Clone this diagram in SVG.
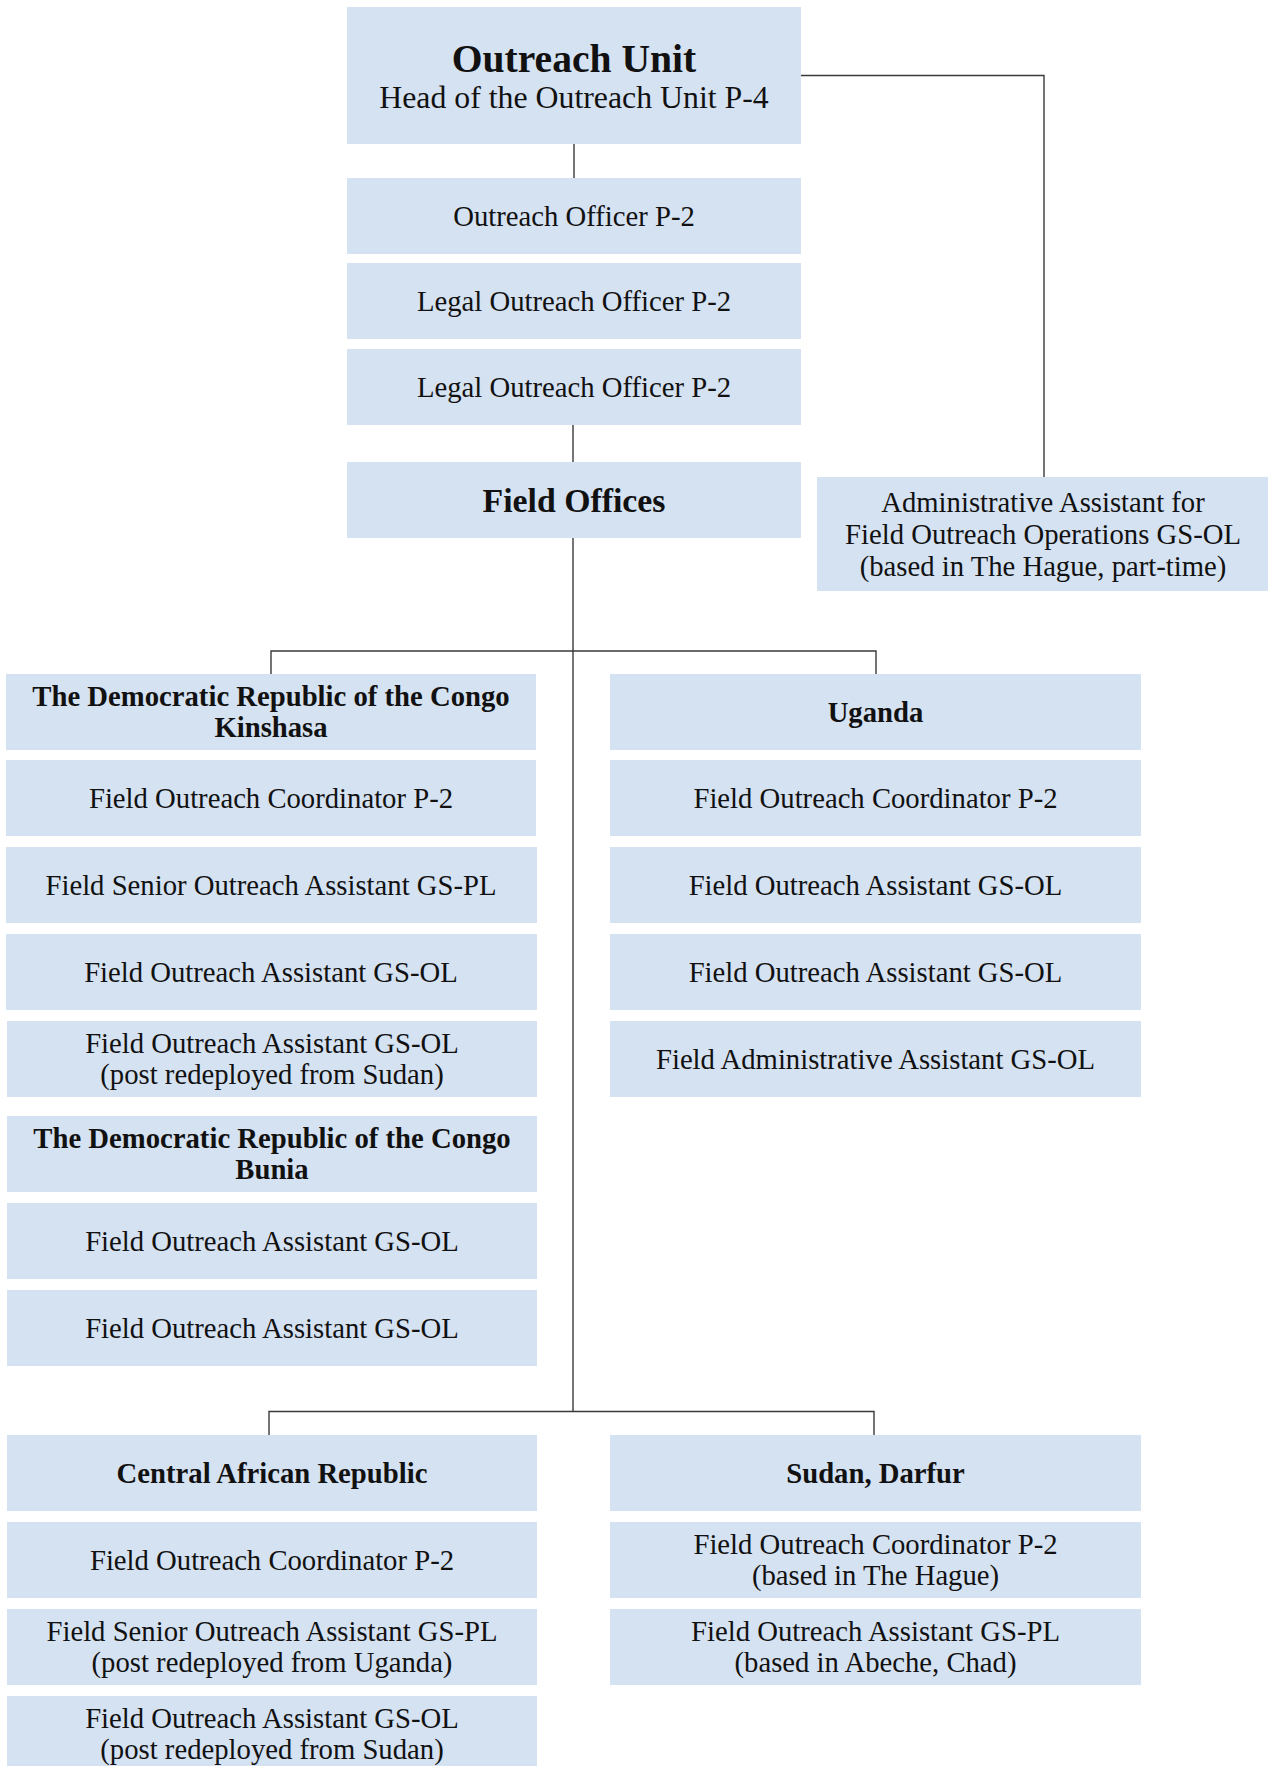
<svg xmlns="http://www.w3.org/2000/svg" width="1268" height="1766" viewBox="0 0 1268 1766">
<style>
.box{fill:#d5e2f1}
.t{font-family:"Liberation Serif",serif;font-size:28.7px;fill:#111;text-anchor:middle}
.b{font-weight:bold}
.ln{fill:none;stroke:#3a3a3a;stroke-width:1.4}
</style>
<rect width="1268" height="1766" fill="#fff"/>
<g id="connectors">
<path class="ln" d="M574 144V178"/>
<path class="ln" d="M573 425V462"/>
<path class="ln" d="M801 75.5H1044V477"/>
<path class="ln" d="M573 538V1411.5"/>
<path class="ln" d="M271 674V651H876V674"/>
<path class="ln" d="M269 1435V1411.5H874V1435"/>
</g>
<g id="n-unit"><rect class="box" x="347" y="7" width="454" height="137"/>
<text class="t b" x="574" y="72" style="font-size:39.6px">Outreach Unit</text>
<text class="t" x="574" y="107.5" style="font-size:31.8px">Head of the Outreach Unit P-4</text></g>
<g id="n-oo"><rect class="box" x="347" y="178" width="454" height="76"/><text class="t" x="574" y="226">Outreach Officer P-2</text></g>
<g id="n-lo1"><rect class="box" x="347" y="263" width="454" height="76"/><text class="t" x="574" y="311">Legal Outreach Officer P-2</text></g>
<g id="n-lo2"><rect class="box" x="347" y="349" width="454" height="76"/><text class="t" x="574" y="397">Legal Outreach Officer P-2</text></g>
<g id="n-fo"><rect class="box" x="347" y="462" width="454" height="76"/><text class="t b" x="574" y="512" style="font-size:33.8px">Field Offices</text></g>
<g id="n-admin"><rect class="box" x="817" y="477" width="451" height="114"/>
<text class="t" x="1043" y="512">Administrative Assistant for</text>
<text class="t" x="1043" y="544">Field Outreach Operations GS-OL</text>
<text class="t" x="1043" y="576">(based in The Hague, part-time)</text></g>

<g id="n-kin"><rect class="box" x="6" y="674" width="530" height="76"/>
<text class="t b" x="271" y="706">The Democratic Republic of the Congo</text>
<text class="t b" x="271" y="737">Kinshasa</text></g>
<g id="n-kin1"><rect class="box" x="6" y="760" width="530" height="76"/><text class="t" x="271" y="808">Field Outreach Coordinator P-2</text></g>
<g id="n-kin2"><rect class="box" x="6" y="847" width="531" height="76"/><text class="t" x="271" y="895">Field Senior Outreach Assistant GS-PL</text></g>
<g id="n-kin3"><rect class="box" x="6" y="934" width="531" height="76"/><text class="t" x="271" y="982">Field Outreach Assistant GS-OL</text></g>
<g id="n-kin4"><rect class="box" x="7" y="1021" width="530" height="76"/>
<text class="t" x="272" y="1053">Field Outreach Assistant GS-OL</text>
<text class="t" x="272" y="1084">(post redeployed from Sudan)</text></g>
<g id="n-bun"><rect class="box" x="7" y="1116" width="530" height="76"/>
<text class="t b" x="272" y="1148">The Democratic Republic of the Congo</text>
<text class="t b" x="272" y="1179">Bunia</text></g>
<g id="n-bun1"><rect class="box" x="7" y="1203" width="530" height="76"/><text class="t" x="272" y="1251">Field Outreach Assistant GS-OL</text></g>
<g id="n-bun2"><rect class="box" x="7" y="1290" width="530" height="76"/><text class="t" x="272" y="1338">Field Outreach Assistant GS-OL</text></g>

<g id="n-uga"><rect class="box" x="610" y="674" width="531" height="76"/><text class="t b" x="875.5" y="722">Uganda</text></g>
<g id="n-uga1"><rect class="box" x="610" y="760" width="531" height="76"/><text class="t" x="875.5" y="808">Field Outreach Coordinator P-2</text></g>
<g id="n-uga2"><rect class="box" x="610" y="847" width="531" height="76"/><text class="t" x="875.5" y="895">Field Outreach Assistant GS-OL</text></g>
<g id="n-uga3"><rect class="box" x="610" y="934" width="531" height="76"/><text class="t" x="875.5" y="982">Field Outreach Assistant GS-OL</text></g>
<g id="n-uga4"><rect class="box" x="610" y="1021" width="531" height="76"/><text class="t" x="875.5" y="1069">Field Administrative Assistant GS-OL</text></g>

<g id="n-car"><rect class="box" x="7" y="1435" width="530" height="76"/><text class="t b" x="272" y="1483">Central African Republic</text></g>
<g id="n-car1"><rect class="box" x="7" y="1522" width="530" height="76"/><text class="t" x="272" y="1570">Field Outreach Coordinator P-2</text></g>
<g id="n-car2"><rect class="box" x="7" y="1609" width="530" height="76"/>
<text class="t" x="272" y="1641">Field Senior Outreach Assistant GS-PL</text>
<text class="t" x="272" y="1672">(post redeployed from Uganda)</text></g>
<g id="n-car3"><rect class="box" x="7" y="1696" width="530" height="76"/>
<text class="t" x="272" y="1728">Field Outreach Assistant GS-OL</text>
<text class="t" x="272" y="1759">(post redeployed from Sudan)</text></g>

<g id="n-sud"><rect class="box" x="610" y="1435" width="531" height="76"/><text class="t b" x="875.5" y="1483">Sudan, Darfur</text></g>
<g id="n-sud1"><rect class="box" x="610" y="1522" width="531" height="76"/>
<text class="t" x="875.5" y="1554">Field Outreach Coordinator P-2</text>
<text class="t" x="875.5" y="1585">(based in The Hague)</text></g>
<g id="n-sud2"><rect class="box" x="610" y="1609" width="531" height="76"/>
<text class="t" x="875.5" y="1641">Field Outreach Assistant GS-PL</text>
<text class="t" x="875.5" y="1672">(based in Abeche, Chad)</text></g>
</svg>
